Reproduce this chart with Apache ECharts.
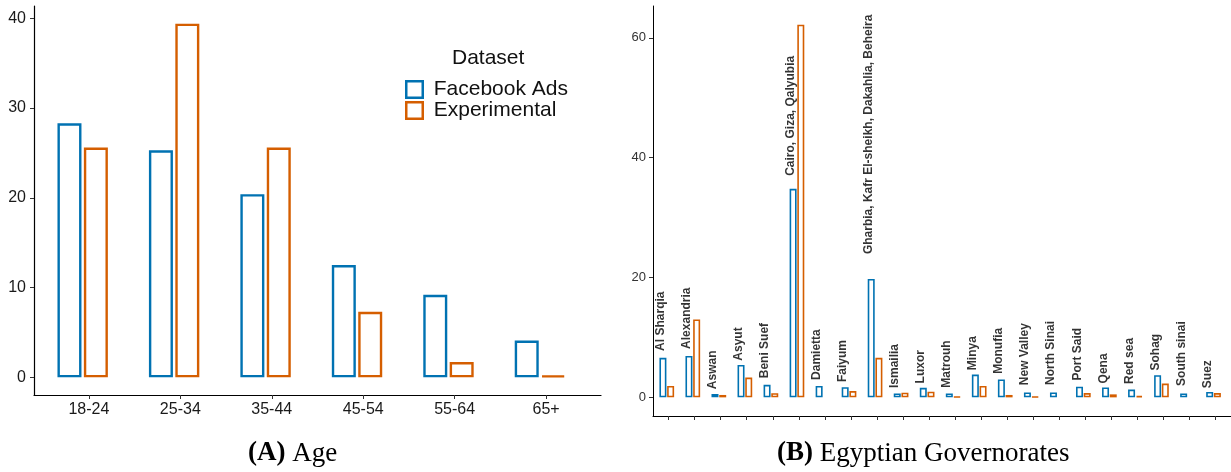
<!DOCTYPE html>
<html>
<head>
<meta charset="utf-8">
<script src="https://cdn.jsdelivr.net/npm/echarts@6/dist/echarts.min.js"></script>
<style>
html, body { margin: 0; background: #fff; }
#chart { width: 1231px; height: 472px; }
</style>
</head>
<body>
<div id="chart"></div>
<script>
// (A) Age
var ageGroups = ['18-24', '25-34', '35-44', '45-54', '55-64', '65+'];
var ageFacebook = [28.3, 25.3, 20.4, 12.5, 9.2, 4.1];
var ageExperimental = [25.6, 39.4, 25.6, 7.3, 1.7, 0.2];
var ageTicks = [0, 10, 20, 30, 40];

// (B) Egyptian Governorates
var governorates = ['Al Sharqia', 'Alexandria', 'Aswan', 'Asyut', 'Beni Suef', 'Cairo, Giza, Qalyubia',
    'Damietta', 'Faiyum', 'Gharbia, Kafr El-sheikh, Dakahlia, Beheira', 'Ismailia', 'Luxor', 'Matrouh',
    'Minya', 'Monufia', 'New Valley', 'North Sinai', 'Port Said', 'Qena', 'Red sea', 'Sohag',
    'South sinai', 'Suez'];
var govFacebook = [6.6, 6.9, 0.55, 5.4, 2.1, 34.8, 1.9, 1.7, 19.75, 0.66, 1.6, 0.66,
    3.8, 3.0, 0.83, 0.83, 1.77, 1.66, 1.3, 3.7, 0.66, 0.9];
var govExperimental = [1.9, 13.0, 0.4, 3.3, 0.7, 62.2, null, 1.05, 6.6, 0.77, 0.94, 0.1,
    1.9, 0.4, 0.1, null, 0.72, 0.5, 0.25, 2.3, null, 0.72];
var govTicks = [0, 20, 40, 60];

var BLUE = '#0072B2';
var ORANGE = '#D55E00';

function idx(arr) {
    return arr.map(function (v, i) { return i + 1; });
}
function pairs(vals) {
    return vals.map(function (v, i) { return [i + 1, v == null ? '-' : v]; });
}
// ggplot-like 5% expansion
function ymax(a, b) {
    return Math.max.apply(null, a.concat(b).filter(function (v) { return v != null; }));
}
var ageMax = ymax(ageFacebook, ageExperimental);
var govMax = ymax(govFacebook, govExperimental);

// label text measure, for hjust-like offset
var ctx = document.createElement('canvas').getContext('2d');
ctx.font = 'bold 12px "Liberation Sans"';

var chart = echarts.init(document.getElementById('chart'));
chart.setOption({
    animation: false,
    textStyle: { fontFamily: 'Liberation Sans' },
    title: [
        {
            text: 'Dataset', left: 452, top: 48, padding: 0,
            textStyle: { fontSize: 21, fontWeight: 'normal', color: '#111' }
        },
        {
            text: '{b|(A)} Age', left: 248, top: 440, padding: 0,
            textStyle: {
                fontFamily: 'Liberation Serif', fontSize: 27, fontWeight: 'normal', color: '#000',
                rich: { b: { fontFamily: 'Liberation Serif', fontSize: 27, fontWeight: 'bold' } }
            }
        },
        {
            text: '{b|(B)} Egyptian Governorates', left: 777, top: 440, padding: 0,
            textStyle: {
                fontFamily: 'Liberation Serif', fontSize: 27, fontWeight: 'normal', color: '#000',
                rich: { b: { fontFamily: 'Liberation Serif', fontSize: 27, fontWeight: 'bold' } }
            }
        }
    ],
    legend: {
        data: ['Facebook Ads', 'Experimental'],
        left: 405, top: 79, padding: 0,
        orient: 'vertical',
        itemGap: 0,
        itemWidth: 16.5, itemHeight: 16.5,
        icon: 'rect',
        itemStyle: { borderWidth: 2.5 },
        textStyle: { fontSize: 21, color: '#111', padding: [0, 0, 0, 6] }
    },
    grid: [
        { left: 34, top: 6, right: 630, bottom: 77 },
        { left: 653, top: 6, right: 0, bottom: 56 }
    ],
    xAxis: [
        {
            type: 'value', gridIndex: 0,
            min: 0.4, max: ageGroups.length + 0.6,
            splitLine: { show: false },
            axisLine: { onZero: false, lineStyle: { color: '#000', width: 1.2 } },
            axisTick: { customValues: idx(ageGroups), length: 4, lineStyle: { color: '#333' } },
            axisLabel: {
                customValues: idx(ageGroups), margin: 7,
                fontSize: 16, color: '#1a1a1a',
                formatter: function (v) { return ageGroups[Math.round(v) - 1]; }
            }
        },
        {
            type: 'value', gridIndex: 1,
            min: 0.4, max: governorates.length + 0.6,
            splitLine: { show: false },
            axisLine: { onZero: false, lineStyle: { color: '#000', width: 1 } },
            axisTick: { customValues: idx(governorates), length: 4, lineStyle: { color: '#333' } },
            axisLabel: { show: false }
        }
    ],
    yAxis: [
        {
            type: 'value', gridIndex: 0,
            min: -0.05 * ageMax, max: 1.05 * ageMax,
            splitLine: { show: false },
            axisLine: { show: true, onZero: false, lineStyle: { color: '#000', width: 1.2 } },
            axisTick: { show: true, customValues: ageTicks, length: 4, lineStyle: { color: '#333' } },
            axisLabel: { customValues: ageTicks, margin: 8, fontSize: 16, color: '#1a1a1a' }
        },
        {
            type: 'value', gridIndex: 1,
            min: -0.05 * govMax, max: 1.05 * govMax,
            splitLine: { show: false },
            axisLine: { show: true, onZero: false, lineStyle: { color: '#000', width: 1 } },
            axisTick: { show: true, customValues: govTicks, length: 4, lineStyle: { color: '#333' } },
            axisLabel: { customValues: govTicks, margin: 7, fontSize: 13, color: '#333' }
        }
    ],
    series: [
        {
            name: 'Facebook Ads', type: 'bar', xAxisIndex: 0, yAxisIndex: 0,
            data: pairs(ageFacebook), barWidth: 24, barGap: '10%',
            itemStyle: { color: '#fff', borderColor: BLUE, borderWidth: 2.4 }
        },
        {
            name: 'Experimental', type: 'bar', xAxisIndex: 0, yAxisIndex: 0,
            data: pairs(ageExperimental), barWidth: 24, barGap: '10%',
            itemStyle: { color: '#fff', borderColor: ORANGE, borderWidth: 2.4 }
        },
        {
            // empty slot so the pair sits a bit left of the tick, as in the original
            name: 'pad', type: 'bar', xAxisIndex: 0, yAxisIndex: 0, silent: true,
            data: pairs(ageFacebook.map(function () { return 0; })), barWidth: 10, barGap: '10%',
            itemStyle: { color: 'transparent', borderWidth: 0 }
        },
        {
            name: 'Facebook Ads', type: 'bar', xAxisIndex: 1, yAxisIndex: 1,
            data: pairs(govFacebook), barWidth: 7, barGap: '10%',
            itemStyle: { color: '#fff', borderColor: BLUE, borderWidth: 1.6 }
        },
        {
            name: 'Experimental', type: 'bar', xAxisIndex: 1, yAxisIndex: 1,
            data: pairs(govExperimental), barWidth: 7, barGap: '10%',
            itemStyle: { color: '#fff', borderColor: ORANGE, borderWidth: 1.6 }
        },
        {
            name: 'pad2', type: 'bar', xAxisIndex: 1, yAxisIndex: 1, silent: true,
            data: pairs(govFacebook.map(function () { return 0; })), barWidth: 3, barGap: '10%',
            itemStyle: { color: 'transparent', borderWidth: 0 }
        },
        {
            name: 'labels', type: 'scatter', xAxisIndex: 1, yAxisIndex: 1, silent: true,
            symbolSize: 0,
            data: governorates.map(function (g, i) {
                return {
                    value: [i + 1, govFacebook[i]],
                    label: { distance: 0.1 * ctx.measureText(g).width + 1 }
                };
            }),
            label: {
                show: true, position: 'top', rotate: 90,
                align: 'left', verticalAlign: 'middle',
                offset: [0, -8],
                fontSize: 12, fontWeight: 'bold', color: '#000',
                formatter: function (p) { return governorates[p.dataIndex]; }
            }
        }
    ]
});
</script>
</body>
</html>
